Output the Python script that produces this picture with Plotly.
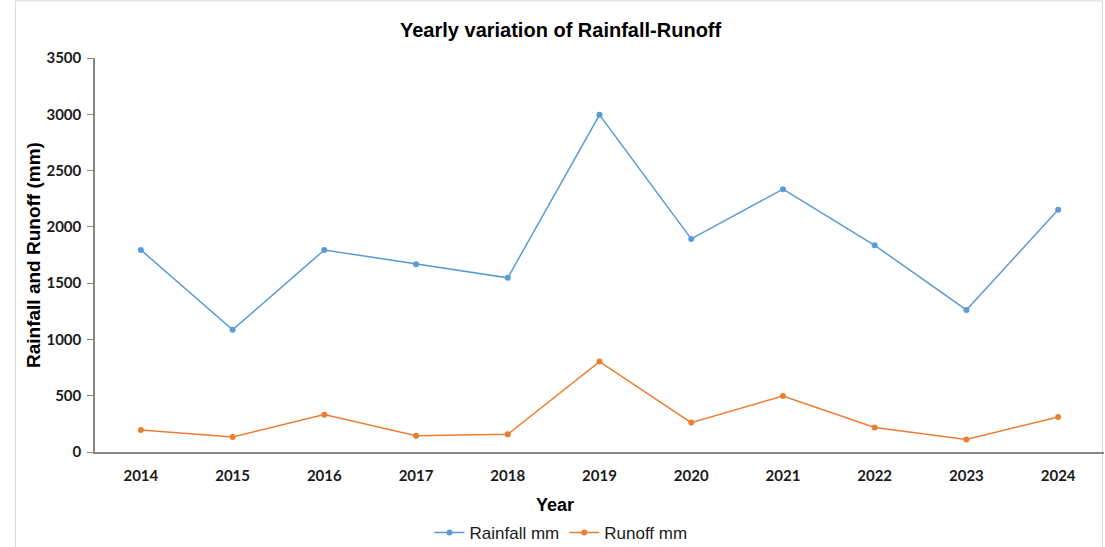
import plotly.graph_objects as go

years = ["2014", "2015", "2016", "2017", "2018", "2019", "2020", "2021", "2022", "2023", "2024"]
rainfall = [1795, 1085, 1795, 1668, 1547, 2995, 1893, 2335, 1836, 1262, 2151]
runoff = [196, 133, 332, 145, 157, 803, 261, 498, 217, 112, 311]
y_ticks = [0, 500, 1000, 1500, 2000, 2500, 3000, 3500]

fig = go.Figure()
fig.add_trace(go.Scatter(x=years, y=rainfall, mode="lines+markers", name="Rainfall mm",
                         line=dict(color="#5B9BD5", width=1.5), marker=dict(size=6, color="#5B9BD5")))
fig.add_trace(go.Scatter(x=years, y=runoff, mode="lines+markers", name="Runoff mm",
                         line=dict(color="#ED7D31", width=1.5), marker=dict(size=6, color="#ED7D31")))

tickfont = dict(family="Lato", size=15, color="#1a1a1a", weight="bold")
fig.update_layout(
    width=1105, height=547,
    margin=dict(l=95, r=1, t=58, b=95, autoexpand=False),
    paper_bgcolor="white", plot_bgcolor="white",
    showlegend=True,
    legend=dict(orientation="h", xref="container", yref="container",
                x=561 / 1105, xanchor="center", y=1 - 533 / 547, yanchor="middle",
                font=dict(family="Liberation Sans", size=17, color="#1a1a1a"),
                itemwidth=30, bgcolor="rgba(0,0,0,0)"),
    xaxis=dict(type="category", showgrid=False, showline=True, linecolor="#868686", linewidth=1.5,
               ticks="", tickfont=tickfont, zeroline=False, range=[-0.5, 10.5],
               ticklabelstandoff=9),
    yaxis=dict(range=[0, 3500], tickvals=y_ticks, showgrid=False, showline=True, linecolor="#868686",
               linewidth=1.5, ticks="outside", ticklen=6, tickcolor="#868686", tickfont=tickfont,
               ticklabelstandoff=3, zeroline=False),
    shapes=[dict(type="rect", xref="paper", yref="paper", x0=-0.0787, x1=0.9985, y0=-0.3, y1=1.145,
                 line=dict(color="#d9d9d9", width=1), fillcolor="rgba(0,0,0,0)", layer="below")],
    annotations=[
        dict(text="<b>Yearly variation of Rainfall-Runoff</b>", xref="paper", yref="paper",
             x=(561 - 95) / 1009, y=1 + (58 - 30) / 394, xanchor="center", yanchor="middle",
             showarrow=False, font=dict(family="Liberation Sans", size=20, color="#000000")),
        dict(text="<b>Year</b>", xref="paper", yref="paper",
             x=(555 - 95) / 1009, y=-(505 - 452) / 394, xanchor="center", yanchor="middle",
             showarrow=False, font=dict(family="Liberation Sans", size=18, color="#000000")),
        dict(text="<b>Rainfall and Runoff (mm)</b>", xref="paper", yref="paper",
             x=-(95 - 33) / 1009, y=0.5, xanchor="center", yanchor="middle", textangle=-90,
             showarrow=False, font=dict(family="Liberation Sans", size=19, color="#000000")),
    ],
)

fig.write_html("out.html")
